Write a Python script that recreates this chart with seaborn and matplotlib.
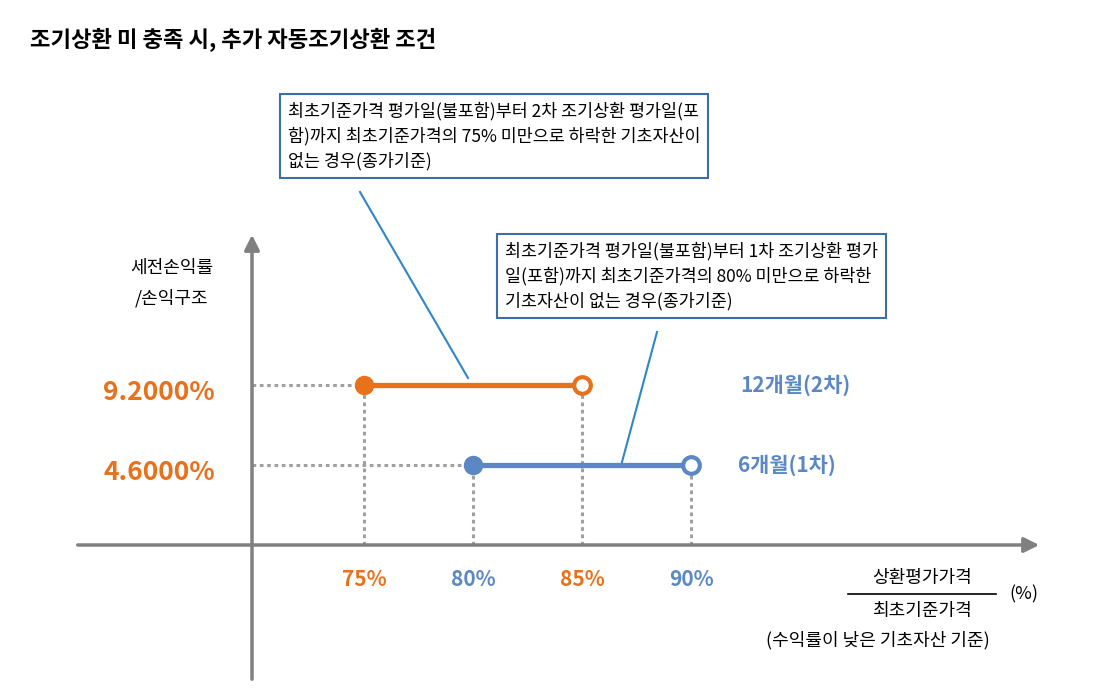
import matplotlib
matplotlib.use("Agg")
import matplotlib.pyplot as plt
import seaborn as sns
import pandas as pd

FONT = ["Noto Sans CJK JP", "Noto Sans CJK KR", "Noto Sans CJK SC", "DejaVu Sans"]
plt.rcParams["font.family"] = FONT

# data
series = ["12개월(2차)", "6개월(1차)"]
starts = [75, 80]
ends = [85, 90]
returns = [9.2, 4.6]
ret_labels = ["9.2000%", "4.6000%"]
tick_vals = [75, 80, 85, 90]
tick_labels = ["75%", "80%", "85%", "90%"]
box_texts = ["최초기준가격 평가일(불포함)부터 2차 조기상환 평가일(포\n함)까지 최초기준가격의 75% 미만으로 하락한 기초자산이\n없는 경우(종가기준)",
             "최초기준가격 평가일(불포함)부터 1차 조기상환 평가\n일(포함)까지 최초기준가격의 80% 미만으로 하락한\n기초자산이 없는 경우(종가기준)"]

ORANGE = "#E8721C"
BLUE = "#5B88C4"
GRAY = "#808080"
colors = [ORANGE, BLUE]

fig = plt.figure(figsize=(11.13, 6.98), dpi=100)
ax = fig.add_axes([0, 0, 1, 1])
XS = 21.8; YS = 80 / 4.6
ax.set_xlim(75 - 364 / XS, 75 + (1113 - 364) / XS)
ax.set_ylim(-(698 - 545) / YS, 545 / YS)
ax.axis("off")

def P(px, py):
    return (75 + (px - 364) / XS, (545 - py) / YS)

ax.annotate("", xy=P(1042, 545), xytext=P(75, 545),
            arrowprops=dict(arrowstyle="-|>,head_length=0.9,head_width=0.45", color=GRAY, lw=2.5))
ax.annotate("", xy=P(252, 232), xytext=P(252, 682),
            arrowprops=dict(arrowstyle="-|>,head_length=0.9,head_width=0.45", color=GRAY, lw=2.5))
x0 = P(252, 0)[0]

df = pd.DataFrame({"s": series, "start": starts, "end": ends, "ret": returns})
for i, r in df.iterrows():
    c = colors[i]
    ax.plot([x0, r.start], [r.ret, r.ret], ls=(0, (1.2, 1.2)), color="#A0A0A0", lw=2.2, zorder=1)
    for xv in (r.start, r.end):
        ax.plot([xv, xv], [0, r.ret], ls=(0, (1.2, 1.2)), color="#A0A0A0", lw=2.2, zorder=1)
    line = pd.DataFrame({"x": [r.start, r.end], "y": [r.ret, r.ret]})
    sns.lineplot(data=line, x="x", y="y", ax=ax, color=c, lw=3.8, zorder=2)
    ax.plot(r.start, r.ret, "o", ms=13, color=c, zorder=3)
    ax.plot(r.end, r.ret, "o", ms=12, mfc="white", mec=c, mew=3, zorder=3)
    ax.text(*P(215, 545 - r.ret * YS + 8), ret_labels[i], color=ORANGE, fontsize=19,
            fontweight="bold", ha="right", va="center")
    ax.text(*P(740 if i == 0 else 738, 545 - r.ret * YS), r.s, color=BLUE, fontsize=15,
            fontweight="bold", ha="left", va="center")

for v, l in zip(tick_vals, tick_labels):
    ax.text(v, P(0, 580)[1], l, color=ORANGE if v in (75, 85) else BLUE,
            fontsize=15, fontweight="bold", ha="center", va="center")

ax.text(*P(30, 40), "조기상환 미 충족 시, 추가 자동조기상환 조건", fontsize=16, fontweight="bold",
        ha="left", va="center")
ax.text(*P(172, 283), "세전손익률\n/손익구조", fontsize=13, ha="center", va="center", linespacing=1.8)

for txt, (px, py) in zip(box_texts, [(288, 136), (505, 276)]):
    ax.text(*P(px, py), txt, fontsize=12.5, ha="left", va="center", linespacing=1.45,
            bbox=dict(boxstyle="square,pad=0.45", fc="white", ec="#3C6FA8", lw=1.5), zorder=4)
ax.plot(*zip(P(360, 192), P(468, 378)), color="#2E86C8", lw=1.5)
ax.plot(*zip(P(657, 332), P(622, 462)), color="#2E86C8", lw=1.5)

ax.text(*P(922, 578), "상환평가가격", fontsize=13, ha="center", va="center")
ax.plot(*zip(P(848, 594), P(996, 594)), color="black", lw=1.2)
ax.text(*P(922, 611), "최초기준가격", fontsize=13, ha="center", va="center")
ax.text(*P(1024, 594), "(%)", fontsize=13, ha="center", va="center")
ax.text(*P(878, 640), "(수익률이 낮은 기초자산 기준)", fontsize=13, ha="center", va="center")

fig.savefig("out.png", dpi=100)
